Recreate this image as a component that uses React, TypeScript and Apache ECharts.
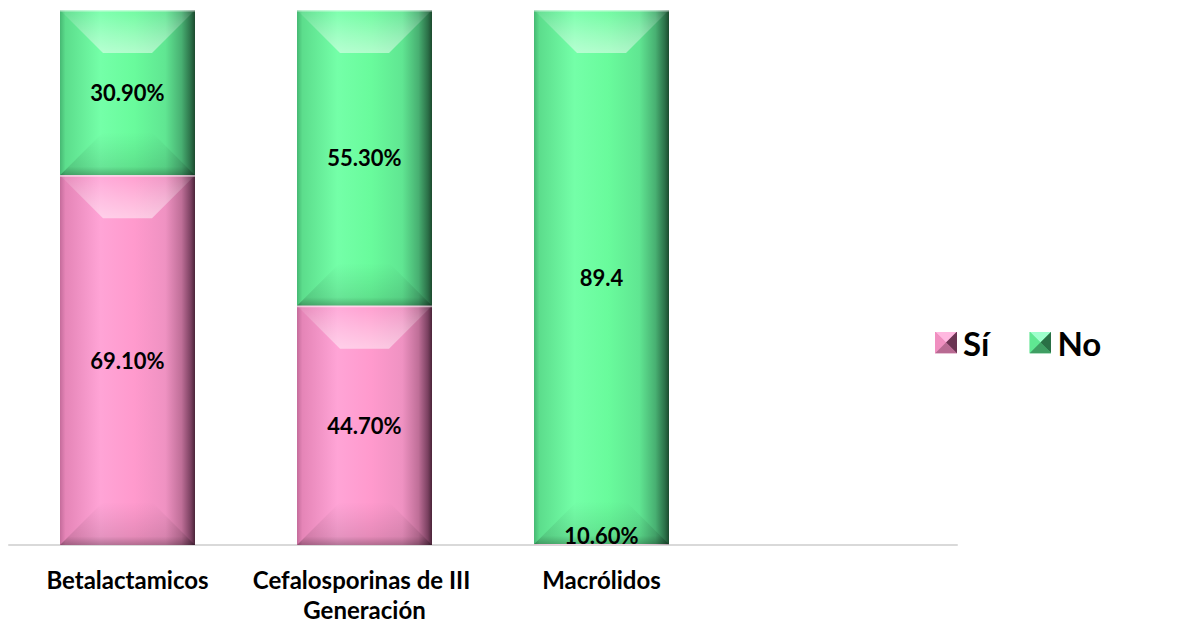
import React, { useEffect, useRef } from "react";
import * as echarts from "echarts";

// Categories and raw values per series
const categories = ["Betalactamicos", "Cefalosporinas de III Generación", "Macrólidos"];
const siValues = [0.691, 0.447, 0.106];
const noValues = [0.309, 0.553, 89.4];
const seriesNames = ["Sí", "No"];

const FONT = "Lato";
const BAR_RATIO = 135 / 237;
const BEVEL = 43;

// Horizontal body shading and legend face colours for each series
const PINK = {
  body: [
    [0, "#c46c9b"],
    [0.04, "#e585b7"],
    [0.3, "#ffa4d6"],
    [0.55, "#ff9acd"],
    [0.78, "#ef92c2"],
    [0.9, "#bf6f98"],
    [0.97, "#7a4060"],
    [1, "#4a2438"],
  ],
  faces: { top: "#ffb8e0", left: "#f08fc0", right: "#6a3452", bottom: "#b86a92", base: "#e58ab8" },
};
const GREEN = {
  body: [
    [0, "#46b873"],
    [0.04, "#5cdd8c"],
    [0.3, "#74ffa8"],
    [0.55, "#69fb9c"],
    [0.78, "#60e692"],
    [0.9, "#48b072"],
    [0.97, "#2b7048"],
    [1, "#1c4a2e"],
  ],
  faces: { top: "#9effcc", left: "#5fe892", right: "#2a7046", bottom: "#3f9e63", base: "#55d887" },
};

const fmt = (v: number) => (v < 1 ? (v * 100).toFixed(2) + "%" : String(v));

// 100% stacked shares
const totals = categories.map((_, i) => siValues[i] + noValues[i]);
const siShare = siValues.map((v, i) => v / totals[i]);

const siData = categories.map((_, i) => [i, 0, siShare[i], siValues[i]]);
const noData = categories.map((_, i) => [i, siShare[i], 1, noValues[i]]);

function legendIcon(f: { top: string; left: string; right: string; bottom: string; base: string }) {
  const svg =
    `<svg xmlns='http://www.w3.org/2000/svg' width='22' height='22' viewBox='0 0 22 22'>` +
    `<rect width='22' height='22' fill='${f.base}'/>` +
    `<polygon points='0,0 22,0 11,11' fill='${f.top}'/>` +
    `<polygon points='0,0 11,11 0,22' fill='${f.left}'/>` +
    `<polygon points='22,0 22,22 11,11' fill='${f.right}'/>` +
    `<polygon points='0,22 22,22 11,11' fill='${f.bottom}'/>` +
    `</svg>`;
  return "image://data:image/svg+xml;charset=utf-8," + encodeURIComponent(svg);
}

function makeRenderItem(palette: typeof PINK) {
  return (params: any, api: any) => {
    const cat = api.value(0);
    const start = api.coord([cat, api.value(1)]);
    const end = api.coord([cat, api.value(2)]);
    const base = api.coord([cat, 0]);
    const bandW = api.size([1, 0])[0];
    const w = bandW * BAR_RATIO;
    const cx = start[0];
    const L = cx - w / 2;
    const R = cx + w / 2;
    const T = end[1];
    const B = start[1];
    const h = B - T;
    const d = Math.max(0, Math.min(BEVEL, h / 2, w / 2));
    const children: any[] = [];
    if (h > 0.3) {
      children.push({
        type: "rect",
        shape: { x: L, y: T, width: w, height: h },
        style: {
          fill: new echarts.graphic.LinearGradient(
            0, 0, 1, 0,
            palette.body.map(([o, c]) => ({ offset: o as number, color: c as string }))
          ),
        },
      });
      // top face
      children.push({
        type: "polygon",
        shape: { points: [[L, T], [R, T], [R - d, T + d], [L + d, T + d]] },
        style: {
          fill: new echarts.graphic.LinearGradient(0, 0, 0, 1, [
            { offset: 0, color: "rgba(255,255,255,0.06)" },
            { offset: 0.6, color: "rgba(255,255,255,0.32)" },
            { offset: 1, color: "rgba(255,255,255,0.48)" },
          ]),
        },
      });
      // bottom face
      children.push({
        type: "polygon",
        shape: { points: [[L + d, B - d], [R - d, B - d], [R, B], [L, B]] },
        style: {
          fill: new echarts.graphic.LinearGradient(0, 0, 0, 1, [
            { offset: 0, color: "rgba(0,0,0,0.0)" },
            { offset: 0.8, color: "rgba(0,0,0,0.1)" },
            { offset: 1, color: "rgba(0,0,0,0.3)" },
          ]),
        },
      });
      // thin highlight on the top edge
      children.push({
        type: "rect",
        shape: { x: L, y: T, width: w, height: Math.min(1.5, h) },
        style: { fill: "rgba(255,255,255,0.55)" },
      });
    }
    const labelY = Math.min((T + B) / 2, base[1] - 10);
    children.push({
      type: "text",
      z2: 20,
      style: {
        text: fmt(api.value(3)),
        x: cx,
        y: labelY,
        align: "center",
        verticalAlign: "middle",
        fontFamily: FONT,
        fontWeight: "bold",
        fontSize: 22,
        fill: "#000",
      },
    });
    return { type: "group", children };
  };
}

export default function App() {
  const ref = useRef<HTMLDivElement>(null);
  useEffect(() => {
    if (!ref.current) return;
    const chart = echarts.init(ref.current, undefined, { renderer: "svg" });
    chart.setOption({
      animation: false,
      backgroundColor: "#ffffff",
      grid: { left: 9, right: 223, top: 10, bottom: 80, containLabel: false },
      legend: {
        left: 930,
        top: 321,
        orient: "horizontal",
        itemWidth: 22,
        itemHeight: 22,
        itemGap: 40,
        textStyle: { fontFamily: FONT, fontWeight: "bold", fontSize: 33, color: "#000", padding: [0, 0, 0, 1] },
        data: [
          { name: seriesNames[0], icon: legendIcon(PINK.faces) },
          { name: seriesNames[1], icon: legendIcon(GREEN.faces) },
        ],
      },
      xAxis: {
        type: "category",
        data: [...categories, ""],
        boundaryGap: true,
        axisLine: { show: true, lineStyle: { color: "#d9d9d9", width: 2 } },
        axisTick: { show: false },
        axisLabel: {
          interval: 0,
          margin: 19,
          fontFamily: FONT,
          fontWeight: "bold",
          fontSize: 24,
          lineHeight: 30,
          color: "#000",
          width: 236,
          overflow: "break",
        },
      },
      yAxis: { type: "value", min: 0, max: 1, show: false, splitLine: { show: false } },
      series: [
        {
          name: seriesNames[0],
          type: "custom",
          z: 3,
          renderItem: makeRenderItem(PINK),
          encode: { x: 0, y: [1, 2] },
          itemStyle: { color: "#ff99cc" },
          data: siData,
        },
        {
          name: seriesNames[1],
          type: "custom",
          z: 2,
          renderItem: makeRenderItem(GREEN),
          encode: { x: 0, y: [1, 2] },
          itemStyle: { color: "#66ff99" },
          data: noData,
        },
      ],
    });
    return () => chart.dispose();
  }, []);
  return (
    <div
      ref={ref}
      style={{ position: "fixed", left: 0, top: 0, width: 1180, height: 625, background: "#fff" }}
    />
  );
}
